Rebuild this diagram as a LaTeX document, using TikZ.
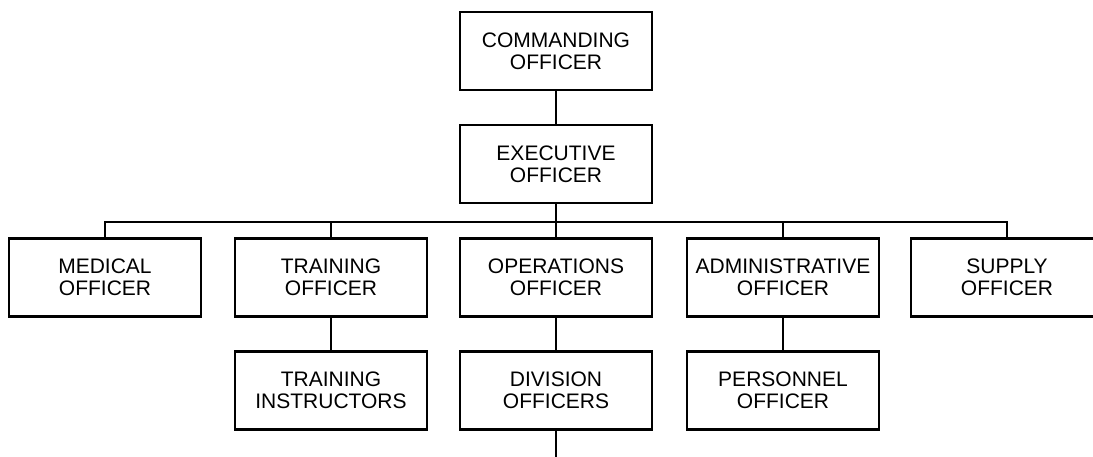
\documentclass[tikz,border=0pt]{standalone}
\usepackage{fontspec}
\setmainfont{Liberation Sans}
\usepackage{tikz}
\usetikzlibrary{positioning, calc}

\begin{document}
\begin{tikzpicture}[x=1pt, y=1pt, line width=2.4pt,
    officer/.style={draw, align=center, inner sep=0pt,
      minimum width=192pt, minimum height=78pt,
      font=\fontsize{21pt}{22pt}\selectfont}]
      \useasboundingbox (0,0) rectangle (1093,-457);
      % command chain
      \node[officer] (co) at (556,-51) {COMMANDING\\OFFICER};
      \node[officer] (xo) at (556,-164) {EXECUTIVE\\OFFICER};
      % department heads
      \node[officer] (med) at (105,-277.5) {MEDICAL\\OFFICER};
      \node[officer] (trn) at (331,-277.5) {TRAINING\\OFFICER};
      \node[officer] (ops) at (556,-277.5) {OPERATIONS\\OFFICER};
      \node[officer] (adm) at (783,-277.5) {ADMINISTRATIVE\\OFFICER};
      \node[officer] (sup) at (1007,-277.5) {SUPPLY\\OFFICER};
      % subordinates
      \node[officer] (ins) at (331,-390.5) {TRAINING\\INSTRUCTORS};
      \node[officer] (div) at (556,-390.5) {DIVISION\\OFFICERS};
      \node[officer] (per) at (783,-390.5) {PERSONNEL\\OFFICER};
      \coordinate (bar) at (556,-222);
      \coordinate (tail) at (556,-457);

      \draw (co) -- (xo);
      \draw (xo) -- (bar);
      \draw (med.north) |- (bar) -| (sup.north);
      \draw (trn.north) -- (trn.north |- bar);
      \draw (ops.north) -- (bar);
      \draw (adm.north) -- (adm.north |- bar);
      \draw (trn) -- (ins);
      \draw (ops) -- (div);
      \draw (adm) -- (per);
      \draw (div) -- (tail);
    \end{tikzpicture}
\end{document}
